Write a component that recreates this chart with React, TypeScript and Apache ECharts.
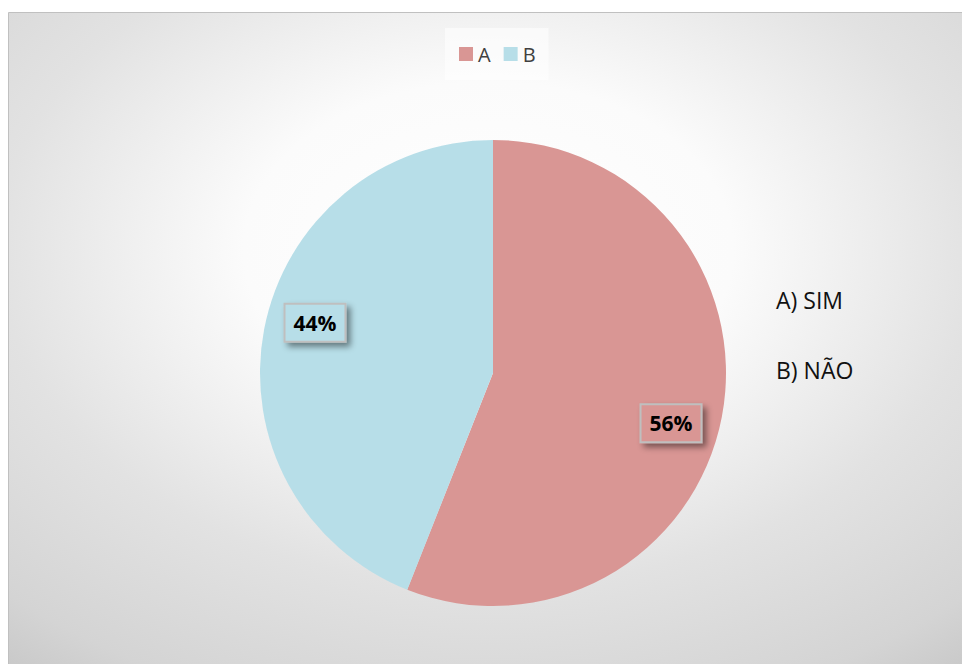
import React, { useEffect, useRef } from "react";
import * as echarts from "echarts";

const categories = ["A", "B"];
const values = [56, 44];
const colors = ["#D99694", "#B7DEE8"];
const answerLabels = ["A) SIM", "B) NÃO"];

export default function App() {
  const ref = useRef<HTMLDivElement>(null);
  useEffect(() => {
    if (!ref.current) return;
    const chart = echarts.init(ref.current, null, { renderer: "svg" });
    const data = categories.map((c, i) => ({
      name: c,
      value: values[i],
      itemStyle: { color: colors[i] },
    }));
    const labelData = categories.map((c, i) => ({
      name: c,
      value: values[i],
      itemStyle: { color: "transparent" },
      label: { backgroundColor: colors[i] },
    }));
    chart.setOption({
      animation: false,
      graphic: [
        {
          type: "rect",
          z: -10,
          silent: true,
          shape: { x: 8.5, y: 12.5, width: 960, height: 660 },
          style: {
            fill: {
              type: "radial",
              x: 0.5,
              y: 0.36,
              r: 0.85,
              colorStops: [
                { offset: 0, color: "#ffffff" },
                { offset: 0.3, color: "#fbfbfb" },
                { offset: 0.6, color: "#e2e2e2" },
                { offset: 0.85, color: "#d4d4d4" },
                { offset: 1, color: "#c3c3c3" },
              ],
            },
            stroke: "#c0c0c0",
            lineWidth: 1,
          },
        },
        ...answerLabels.map((t, i) => ({
          type: "text",
          x: 776,
          y: 300 + i * 70,
          style: {
            text: t,
            fill: "#111111",
            font: "23px 'Open Sans', sans-serif",
            verticalAlign: "middle",
          },
        })),
      ],
      legend: {
        data: categories,
        left: 445,
        top: 28,
        orient: "horizontal",
        padding: [16, 13, 16, 14],
        backgroundColor: "rgba(255,255,255,0.55)",
        itemWidth: 14,
        itemHeight: 14,
        itemGap: 13,
        icon: "rect",
        textStyle: {
          fontFamily: "'Open Sans', sans-serif",
          fontSize: 20,
          color: "#404040",
        },
      },
      series: [
        {
          type: "pie",
          center: [493, 373],
          radius: 233,
          startAngle: 90,
          clockwise: true,
          silent: true,
          label: { show: false },
          labelLine: { show: false },
          data,
        },
        {
          type: "pie",
          center: [493, 373],
          radius: [175, 189],
          startAngle: 85,
          clockwise: true,
          silent: true,
          legendHoverLink: false,
          labelLine: { show: false },
          label: {
            show: true,
            position: "inside",
            formatter: "{c}%",
            fontFamily: "'Open Sans', sans-serif",
            fontWeight: "bold",
            fontSize: 21,
            lineHeight: 26,
            color: "#000000",
            borderColor: "#bfbfbf",
            borderWidth: 2,
            padding: [5, 8, 5, 8],
            shadowColor: "rgba(0,0,0,0.45)",
            shadowBlur: 6,
            shadowOffsetX: 4,
            shadowOffsetY: 4,
          },
          data: labelData,
        },
      ],
    });
    return () => chart.dispose();
  }, []);
  return (
    <div
      ref={ref}
      style={{ position: "absolute", left: 0, top: 0, width: 962, height: 664 }}
    />
  );
}
